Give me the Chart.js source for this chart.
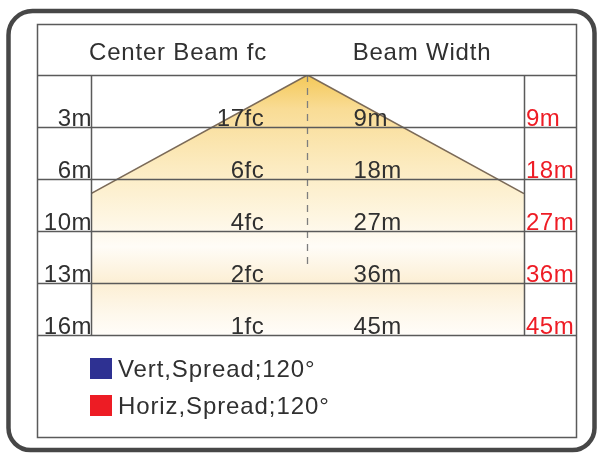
<!DOCTYPE html>
<html><head><meta charset="utf-8">
<script src="https://cdn.jsdelivr.net/npm/chart.js@4"></script>
<style>html,body{margin:0;padding:0;background:#fff;}canvas{display:block}</style>
</head><body>
<canvas id="c" width="598" height="455"></canvas>
<script>
// ---- data ----
const headers = ['Center Beam fc', 'Beam Width'];
const distances = ['3m', '6m', '10m', '13m', '16m'];
const centerFc = ['17fc', '6fc', '4fc', '2fc', '1fc'];
const beamWidthV = ['9m', '18m', '27m', '36m', '45m'];
const beamWidthH = ['9m', '18m', '27m', '36m', '45m'];
const rowIndex = [1, 2, 3, 4, 5];
const beamX = [-1, 0, 1];
const beamY = [2.28, 0, 2.28];
const axisX = [0, 0];
const axisY = [0, 3.7];
const legendLabels = ['Vert,Spread;120°', 'Horiz,Spread;120°'];
const legendColors = ['#2e3192', '#ed1c24'];

const FONT = '"Liberation Sans", Arial, sans-serif';
const TXT = '#303030';
const LINE = '#5a5a5a';

function beamFill(ctx) {
  const chart = ctx.chart;
  const a = chart.chartArea;
  if (!a) return 'rgba(0,0,0,0)';
  const g = chart.ctx.createLinearGradient(0, a.top, 0, a.bottom);
  g.addColorStop(0.0, '#f4c858');
  g.addColorStop(0.13, '#f9dc95');
  g.addColorStop(0.35, '#fcebc0');
  g.addColorStop(0.55, '#fef6e2');
  g.addColorStop(0.66, '#fffcf7');
  g.addColorStop(0.80, '#fcefd4');
  g.addColorStop(0.92, '#fef8ec');
  g.addColorStop(1.0, '#fffdf9');
  return g;
}

const tablePlugin = {
  id: 'table',
  beforeDraw(chart) {
    const c = chart.ctx;
    c.save();
    c.fillStyle = '#ffffff';
    c.fillRect(0, 0, chart.width, chart.height);
    c.restore();
  },
  afterDatasetsDraw(chart) {
    const c = chart.ctx;
    const a = chart.chartArea;
    const xs = chart.scales.x, ys = chart.scales.y;
    const L = 37.5, R = 576.5, T = 24.5, B = 437.5;
    c.save();
    c.strokeStyle = LINE;
    c.lineWidth = 1.5;
    c.strokeRect(L, T, R - L, B - T);
    const lineYs = [ys.getPixelForValue(0)].concat(rowIndex.map(r => ys.getPixelForValue(r)));
    lineYs.forEach(y => {
      c.beginPath(); c.moveTo(L, Math.round(y) + 0.5); c.lineTo(R, Math.round(y) + 0.5); c.stroke();
    });
    [a.left, a.right].forEach(x => {
      c.beginPath(); c.moveTo(Math.round(x) + 0.5, lineYs[0]); c.lineTo(Math.round(x) + 0.5, lineYs[lineYs.length - 1]); c.stroke();
    });
    c.font = '24px ' + FONT;
    c.letterSpacing = '0.8px';
    c.fillStyle = TXT;
    c.textBaseline = 'alphabetic';
    c.textAlign = 'center';
    c.fillText(headers[0], 178, 60);
    c.fillText(headers[1], 422, 60);
    const xFc = xs.getPixelForValue(-0.2);
    const xBw = xs.getPixelForValue(0.213);
    c.letterSpacing = '0.5px';
    rowIndex.forEach((r, i) => {
      const y = ys.getPixelForValue(r) - 1;
      c.fillStyle = TXT;
      c.textAlign = 'right';
      c.fillText(distances[i], a.left + 1, y);
      c.fillText(centerFc[i], xFc, y);
      c.textAlign = 'left';
      c.fillText(beamWidthV[i], xBw, y);
      c.fillStyle = '#ee1c25';
      c.fillText(beamWidthH[i], a.right + 2, y);
    });
    const legY = [358, 395];
    c.letterSpacing = '0.9px';
    legendLabels.forEach((lab, i) => {
      c.fillStyle = legendColors[i];
      c.fillRect(90, legY[i], 22, 21);
      c.fillStyle = TXT;
      c.textAlign = 'left';
      c.fillText(lab, 118, legY[i] + 19);
    });
    c.restore();
  },
  afterDraw(chart) {
    const c = chart.ctx;
    c.save();
    c.strokeStyle = '#474747';
    c.lineWidth = 4.5;
    c.beginPath();
    c.roundRect(8.5, 11, 586, 439, [24, 22, 22, 22]);
    c.stroke();
    c.restore();
  }
};

new Chart(document.getElementById('c'), {
  type: 'line',
  data: {
    datasets: [
      {
        label: 'axis',
        data: axisX.map((x, i) => ({ x, y: axisY[i] })),
        borderColor: '#7e7e7e',
        borderWidth: 1.3,
        borderDash: [7, 6],
        pointRadius: 0,
        fill: false,
        order: 0
      },
      {
        label: 'beam',
        data: beamX.map((x, i) => ({ x, y: beamY[i] })),
        borderColor: '#7b6a58',
        borderWidth: 1.6,
        pointRadius: 0,
        tension: 0,
        fill: { value: 5 },
        backgroundColor: beamFill,
        order: 1
      }
    ]
  },
  options: {
    responsive: false,
    animation: false,
    devicePixelRatio: 1,
    layout: { padding: { left: 91, right: 74, top: 75, bottom: 120 } },
    plugins: { legend: { display: false }, tooltip: { enabled: false } },
    scales: {
      x: { type: 'linear', min: -1, max: 1, display: false },
      y: { type: 'linear', min: 0, max: 5, reverse: true, display: false }
    }
  },
  plugins: [tablePlugin]
});
</script>
</body></html>
